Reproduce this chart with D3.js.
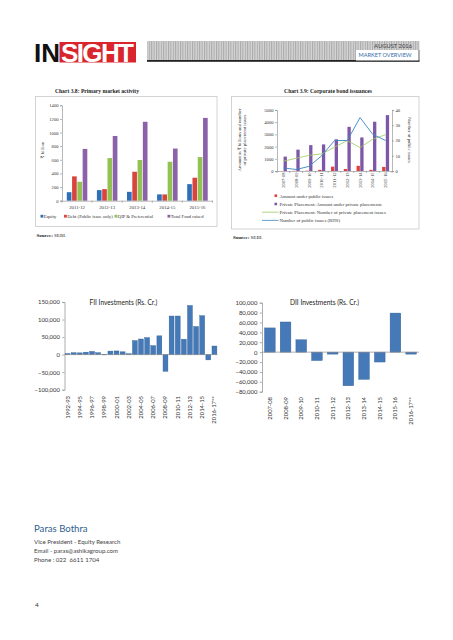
<!DOCTYPE html>
<html><head><meta charset="utf-8">
<script src="https://cdn.jsdelivr.net/npm/d3@7"></script>
<style>
body{margin:0;background:#fff;}
svg{display:block;}
</style></head><body>
<svg id="c" width="453" height="640"></svg>
<script>
// ---------- DATA ----------
const pmYears = ["2011-12","2012-13","2013-14","2014-15","2015-16"];
const pmSeries = ["Equity","Debt (Public issue only)","QIP & Preferential","Total Fund raised"];
const pmEquity = [125,155,130,93,243];
const pmDebt = [357,170,425,92,337];
const pmQip = [278,625,597,572,640];
const pmTotal = [760,950,1158,765,1215];
const pmTicks = [0,200,400,600,800,1000,1200,1400];

const cbYears = ["2007-08","2008-09","2009-10","2010-11","2011-12","2012-13","2013-14","2014-15","2015-16"];
const cbPublicAmt = [0,15,25,95,355,165,425,95,335];
const cbPrivateAmt = [1180,1750,2120,2180,2600,3620,2750,4040,4580];
const cbPrivateNum = [800,1040,1280,1400,1950,2490,1920,2610,2980];
const cbPublicNum = [2,1,3,10,20,20,35,24,20];
const cbLeftTicks = [0,1000,2000,3000,4000,5000];
const cbRightTicks = [0,10,20,30,40];
const cbLegend = ["Amount under public issues","Private Placement: Amount under private placements","Private Placement: Number of private placement issues","Number of public issues (RHS)"];

const fiiYears = ["1992-93","1993-94","1994-95","1995-96","1996-97","1997-98","1998-99","1999-00","2000-01","2001-02","2002-03","2003-04","2004-05","2005-06","2006-07","2007-08","2008-09","2009-10","2010-11","2011-12","2012-13","2013-14","2014-15","2015-16","2016-17**"];
const fiiValues = [3000,5500,5000,7000,9000,5500,-700,10000,10500,8000,2500,40000,44500,48500,25500,53500,-47500,110000,110000,44000,140000,80000,111000,-15000,24500];
const fiiTicks = [-100000,-50000,0,50000,100000,150000];

const diiYears = ["2007-08","2008-09","2009-10","2010-11","2011-12","2012-13","2013-14","2014-15","2015-16","2016-17**"];
const diiValues = [49000,61000,25000,-17000,-4000,-68000,-55000,-20000,79000,-4000];
const diiTicks = [-80000,-60000,-40000,-20000,0,20000,40000,60000,80000,100000];

// ---------- SETUP ----------
const svg = d3.select("#c");
const serif = "'Liberation Serif','DejaVu Serif',serif";
const sans = "Lato,'Open Sans',sans-serif";
const plain = d3.format("d");

// ---------- HEADER ----------
const defs = svg.append("defs");
const pat = defs.append("pattern").attr("id","stripes").attr("patternUnits","userSpaceOnUse")
  .attr("width",2.4).attr("height",10);
pat.append("rect").attr("width",2.4).attr("height",10).attr("fill","#d4d4d4");
pat.append("rect").attr("width",1).attr("height",10).attr("fill","#a9a9a9");

svg.append("text").attr("x",34).attr("y",61.5).attr("font-family","'Liberation Sans',Arial,sans-serif")
  .attr("font-weight",700).attr("font-size",26).attr("fill","#111").text("IN");
svg.append("rect").attr("x",59.5).attr("y",42).attr("width",76.5).attr("height",20.5).attr("fill","#d9252d");
svg.append("text").attr("x",61).attr("y",61.5).attr("font-family","'Liberation Sans',Arial,sans-serif")
  .attr("font-weight",700).attr("font-size",26).attr("fill","#fff").attr("textLength",73).text("SIGHT");

svg.append("rect").attr("x",147).attr("y",41).attr("width",272.5).attr("height",19.5).attr("fill","url(#stripes)");
svg.append("rect").attr("x",147).attr("y",60).attr("width",272.5).attr("height",1.8).attr("fill","#222");
svg.append("rect").attr("x",356).attr("y",50).attr("width",62.5).attr("height",10.5).attr("fill","#fff");
svg.append("rect").attr("x",418.5).attr("y",50).attr("width",1).attr("height",11).attr("fill","#777");
svg.append("text").attr("x",412).attr("y",47.5).attr("text-anchor","end").attr("font-family",sans)
  .attr("font-size",5.8).attr("fill","#444").text("AUGUST 2016");
svg.append("text").attr("x",358.5).attr("y",57.3).attr("font-family",sans)
  .attr("font-size",5.6).attr("fill","#2f6aa6").text("MARKET OVERVIEW");

// ---------- CHART 3.8 ----------
(function(){
  const g = svg.append("g");
  g.append("rect").attr("x",35.5).attr("y",96.5).attr("width",181.5).attr("height",130)
    .attr("fill","none").attr("stroke","#c9c9c9").attr("stroke-width",0.8);
  g.append("text").attr("x",97).attr("y",92.5).attr("text-anchor","middle").attr("font-family",serif)
    .attr("font-weight",700).attr("font-size",5.6).attr("fill","#222").text("Chart 3.8: Primary market activity");

  const x = d3.scaleBand().domain(pmYears).range([62,212.5]);
  const xs = d3.scaleBand().domain(pmSeries).range([0,20.5]).paddingInner(0.12);
  const y = d3.scaleLinear().domain([0,1400]).range([200.7,105.3]);
  const colors = ["#2e6fb7","#d8453e","#93c152","#8b62a9"];
  const vals = [pmEquity,pmDebt,pmQip,pmTotal];

  pmSeries.forEach((s,si)=>{
    g.selectAll(null).data(pmYears).enter().append("rect")
      .attr("x",(d)=>x(d)+ (x.bandwidth()-20.5)/2 + xs(s))
      .attr("width",xs.bandwidth())
      .attr("y",(d,i)=>y(vals[si][i]))
      .attr("height",(d,i)=>y(0)-y(vals[si][i]))
      .attr("fill",colors[si]);
  });

  const ya = g.append("g").attr("transform","translate(62,0)")
    .call(d3.axisLeft(y).tickValues(pmTicks).tickSize(2).tickPadding(1.5).tickFormat(plain));
  ya.selectAll("text").attr("font-family",serif).attr("font-size",4.6).attr("fill","#333");
  ya.selectAll("line,path").attr("stroke","#888").attr("stroke-width",0.6);

  const xa = g.append("g").attr("transform","translate(0,200.7)")
    .call(d3.axisBottom(x).tickSize(0).tickPadding(5));
  xa.selectAll("text").attr("font-family",serif).attr("font-size",4.8).attr("fill","#333");
  xa.selectAll("path").attr("stroke","#888").attr("stroke-width",0.6);
  g.selectAll(null).data(pmYears.concat(["end"])).enter().append("line")
    .attr("x1",(d,i)=> i<pmYears.length ? x(d) : 212.5).attr("x2",(d,i)=> i<pmYears.length ? x(d) : 212.5)
    .attr("y1",200.7).attr("y2",202.7).attr("stroke","#888").attr("stroke-width",0.6);

  g.append("text").attr("transform","translate(43.5,150) rotate(-90)").attr("text-anchor","middle")
    .attr("font-family",serif).attr("font-size",4.8).attr("fill","#333").text("₹ billion");

  const lx = [40.5,64,114.5,167.5];
  pmSeries.forEach((s,i)=>{
    g.append("rect").attr("x",lx[i]).attr("y",214.8).attr("width",2.8).attr("height",2.8).attr("fill",colors[i]);
    g.append("text").attr("x",lx[i]+3.3).attr("y",217.8).attr("font-family",serif).attr("font-size",4.7)
      .attr("fill","#333").text(s);
  });
  const src = g.append("text").attr("x",36.5).attr("y",236.5).attr("font-family",serif).attr("font-size",5).attr("fill","#222");
  src.append("tspan").attr("font-weight",700).text("Source: ");
  src.append("tspan").text("SEBI.");
})();

// ---------- CHART 3.9 ----------
(function(){
  const g = svg.append("g");
  g.append("rect").attr("x",231.5).attr("y",96.5).attr("width",187.5).attr("height",132.5)
    .attr("fill","none").attr("stroke","#c9c9c9").attr("stroke-width",0.8);
  g.append("text").attr("x",328).attr("y",92.5).attr("text-anchor","middle").attr("font-family",serif)
    .attr("font-weight",700).attr("font-size",5.6).attr("fill","#222").text("Chart 3.9: Corporate bond issuances");

  const x = d3.scaleBand().domain(cbYears).range([277,392]);
  const xs = d3.scaleBand().domain(["pub","priv"]).range([0,7]).paddingInner(0.1);
  const y = d3.scaleLinear().domain([0,5000]).range([171,110]);
  const y2 = d3.scaleLinear().domain([0,40]).range([171,110]);

  g.selectAll(null).data(cbYears).enter().append("rect")
    .attr("x",d=>x(d)+(x.bandwidth()-7)/2+xs("pub")).attr("width",xs.bandwidth())
    .attr("y",(d,i)=>y(cbPublicAmt[i])).attr("height",(d,i)=>y(0)-y(cbPublicAmt[i])).attr("fill","#e0413b");
  g.selectAll(null).data(cbYears).enter().append("rect")
    .attr("x",d=>x(d)+(x.bandwidth()-7)/2+xs("priv")).attr("width",xs.bandwidth())
    .attr("y",(d,i)=>y(cbPrivateAmt[i])).attr("height",(d,i)=>y(0)-y(cbPrivateAmt[i])).attr("fill","#7e58a8");

  const cx = d=>x(d)+x.bandwidth()/2;
  g.append("path").datum(cbYears).attr("fill","none").attr("stroke","#9ccb5c").attr("stroke-width",0.8)
    .attr("d",d3.line().x(cx).y((d,i)=>y(cbPrivateNum[i])));
  g.append("path").datum(cbYears).attr("fill","none").attr("stroke","#3a87c4").attr("stroke-width",0.9)
    .attr("d",d3.line().x(cx).y((d,i)=>y2(cbPublicNum[i])));

  const ya = g.append("g").attr("transform","translate(277,0)")
    .call(d3.axisLeft(y).tickValues(cbLeftTicks).tickSize(2).tickPadding(1.5).tickFormat(plain));
  ya.selectAll("text").attr("font-family",serif).attr("font-size",4.6).attr("fill","#333");
  ya.selectAll("line,path").attr("stroke","#888").attr("stroke-width",0.6);
  const yr = g.append("g").attr("transform","translate(392,0)")
    .call(d3.axisRight(y2).tickValues(cbRightTicks).tickSize(2).tickPadding(1.5).tickFormat(plain));
  yr.selectAll("text").attr("font-family",serif).attr("font-size",4.6).attr("fill","#333");
  yr.selectAll("line,path").attr("stroke","#888").attr("stroke-width",0.6);

  const xa = g.append("g").attr("transform","translate(0,171)")
    .call(d3.axisBottom(x).tickSize(0).tickPadding(2));
  xa.selectAll("path").attr("stroke","#888").attr("stroke-width",0.6);
  xa.selectAll("text").attr("font-family",serif).attr("font-size",4.6).attr("fill","#333")
    .attr("text-anchor","end").attr("dy",0).attr("transform","translate(1.6,1.5) rotate(-90)").attr("y",0).attr("x",0);
  g.selectAll(null).data(cbYears.concat(["end"])).enter().append("line")
    .attr("x1",(d,i)=> i<cbYears.length ? x(d) : 392).attr("x2",(d,i)=> i<cbYears.length ? x(d) : 392)
    .attr("y1",171).attr("y2",173).attr("stroke","#888").attr("stroke-width",0.6);

  const lt = g.append("text").attr("transform","translate(240.5,140) rotate(-90)").attr("text-anchor","middle")
    .attr("font-family",serif).attr("font-size",4.7).attr("fill","#333");
  lt.append("tspan").attr("x",0).attr("dy",0).text("Amount in ₹ billions and number");
  lt.append("tspan").attr("x",0).attr("dy",5.4).text("of private placement issues");
  g.append("text").attr("transform","translate(407.5,140) rotate(90)").attr("text-anchor","middle")
    .attr("font-family",serif).attr("font-size",4.7).attr("fill","#333").text("Number of public issues");

  const ly = [196,204.3,212.5,220.7];
  g.append("rect").attr("x",274.5).attr("y",ly[0]-1.6).attr("width",2.6).attr("height",2.6).attr("fill","#e0413b");
  g.append("rect").attr("x",274.5).attr("y",ly[1]-1.6).attr("width",2.6).attr("height",2.6).attr("fill","#7e58a8");
  g.append("line").attr("x1",262).attr("x2",278.5).attr("y1",ly[2]-0.3).attr("y2",ly[2]-0.3).attr("stroke","#9ccb5c").attr("stroke-width",0.8);
  g.append("line").attr("x1",262).attr("x2",278.5).attr("y1",ly[3]-0.3).attr("y2",ly[3]-0.3).attr("stroke","#3a87c4").attr("stroke-width",0.8);
  cbLegend.forEach((s,i)=>{
    g.append("text").attr("x",279.5).attr("y",ly[i]+1.6).attr("font-family",serif).attr("font-size",4.8)
      .attr("fill","#333").text(s);
  });
  const src = g.append("text").attr("x",233).attr("y",238.5).attr("font-family",serif).attr("font-size",5).attr("fill","#222");
  src.append("tspan").attr("font-weight",700).text("Source: ");
  src.append("tspan").text("SEBI.");
})();

// ---------- FII / DII ----------
function investChart(opts){
  const g = svg.append("g");
  const x = d3.scaleBand().domain(opts.cats).range(opts.xr).paddingInner(opts.pad).paddingOuter(opts.pad/2);
  const y = d3.scaleLinear().domain(opts.dom).range(opts.yr);
  const fmt = d3.format(",");
  const ya = g.append("g").attr("transform",`translate(${opts.xr[0]},0)`)
    .call(d3.axisLeft(y).tickValues(opts.ticks).tickSize(2.2).tickPadding(2.5).tickFormat(v=>fmt(v)));
  ya.selectAll("text").attr("font-family",sans).attr("font-size",5.9).attr("fill","#333");
  ya.selectAll("line,path").attr("stroke","#8c8c8c").attr("stroke-width",0.7);

  g.selectAll(null).data(opts.cats).enter().append("rect")
    .attr("x",d=>x(d)).attr("width",x.bandwidth())
    .attr("y",(d,i)=>y(Math.max(0,opts.vals[i])))
    .attr("height",(d,i)=>Math.abs(y(opts.vals[i])-y(0)))
    .attr("fill","#4579b8").attr("stroke","#2f5f96").attr("stroke-width",0.4);

  g.append("line").attr("x1",opts.xr[0]).attr("x2",opts.xr[1]).attr("y1",y(0)).attr("y2",y(0))
    .attr("stroke","#8c8c8c").attr("stroke-width",0.7);

  g.selectAll(null).data(opts.cats.filter((d,i)=>i%opts.every===0)).enter().append("text")
    .attr("transform",d=>`translate(${x(d)+x.bandwidth()/2+2},${opts.ly}) rotate(-90)`)
    .attr("text-anchor","end").attr("font-family",sans).attr("font-size",5.9).attr("fill","#333").text(d=>d);

  g.append("text").attr("x",opts.tx).attr("y",opts.ty).attr("font-family",sans).attr("font-size",6.6)
    .attr("fill","#222").text(opts.title);
}
investChart({cats:fiiYears, vals:fiiValues, xr:[64.5,217.5], dom:[-100000,150000], yr:[389.7,302],
  ticks:fiiTicks, pad:0.2, every:2, ly:396, title:"FII Investments (Rs. Cr.)", tx:89.5, ty:305});
investChart({cats:diiYears, vals:diiValues, xr:[262,419], dom:[-80000,100000], yr:[391.7,302.7],
  ticks:diiTicks, pad:0.32, every:1, ly:397, title:"DII Investments (Rs. Cr.)", tx:290, ty:305});

// ---------- FOOTER ----------
svg.append("text").attr("x",34).attr("y",532).attr("font-family",sans).attr("font-size",9.6)
  .attr("fill","#2d5d8e").text("Paras Bothra");
const info = ["Vice President - Equity Research","Email - paras@ashikagroup.com","Phone : 022  6611 1704"];
info.forEach((t,i)=>{
  svg.append("text").attr("x",34).attr("y",543.5+i*9.2).attr("font-family",sans).attr("font-size",6.1)
    .attr("fill","#444").style("white-space","pre").text(t);
});
svg.append("text").attr("x",35).attr("y",606.5).attr("font-family",sans).attr("font-size",6.5)
  .attr("fill","#333").text("4");
</script>
</body></html>
